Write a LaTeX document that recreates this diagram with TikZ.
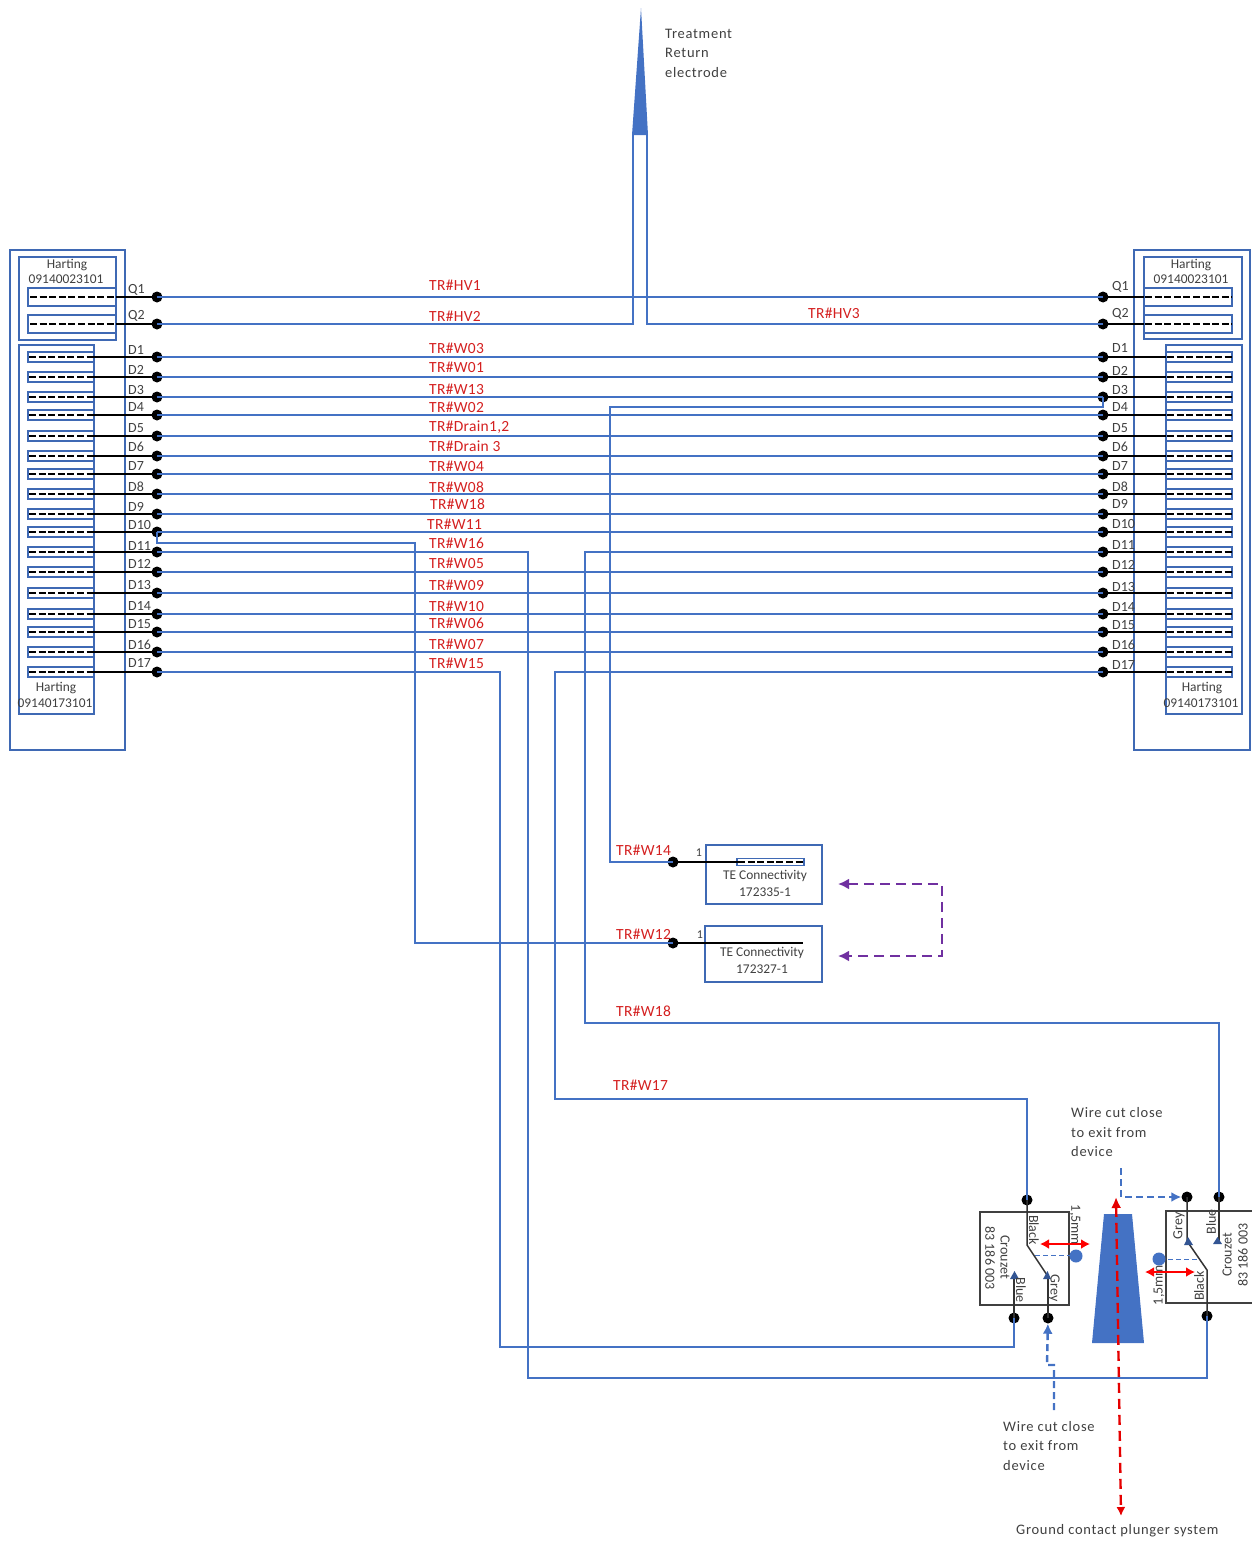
\documentclass[tikz,border=0pt]{standalone}
\usepackage{fontspec}
\setmainfont{Carlito}
\newfontfamily\widefont[LetterSpace=5]{Carlito}
\newfontfamily\midfont[LetterSpace=2]{Carlito}
\usetikzlibrary{arrows.meta}
\definecolor{wb}{HTML}{4472C4}
\definecolor{tx}{HTML}{404040}
\definecolor{trred}{HTML}{D42020}
\definecolor{pur}{HTML}{7030A0}
\tikzset{
 wire/.style={draw=wb,line width=2.6pt,line join=miter},
 bx/.style={draw=wb!92!black,line width=1.2pt},
 pinbox/.style={draw=wb!92!black,line width=1.5pt},
 blk/.style={draw=black,line width=2.2pt},
 pindash/.style={draw=black,line width=2.4pt,dash pattern=on 7pt off 2.6pt},
 dot/.style={circle,fill=black,inner sep=0pt,minimum size=11pt},
 lab/.style={font=\widefont\fontsize{14.5}{15}\selectfont,text=tx,inner sep=0pt,anchor=west},
 plab/.style={font=\fontsize{14}{15}\selectfont,text=tx,inner sep=0pt,anchor=west},
 ctr/.style={font=\fontsize{13.4}{14}\selectfont,text=tx,inner sep=0pt},
 trl/.style={font=\midfont\fontsize{15.5}{16}\selectfont,text=trred,inner sep=0pt,anchor=west},
 swl/.style={font=\fontsize{14}{14}\selectfont,text=tx,inner sep=0pt},
 pdash/.style={draw=pur,line width=2.6pt,dash pattern=on 10pt off 6pt},
 bdash/.style={draw=wb,line width=2.4pt,dash pattern=on 7pt off 4pt},
 rdash/.style={draw=red!90!black,line width=2.4pt,dash pattern=on 10pt off 6pt},
 thin dash/.style={draw=wb,line width=1pt,dash pattern=on 5pt off 3pt},
 redarr/.style={draw=red,line width=1.8pt,{Latex[length=9pt,width=10pt]}-{Latex[length=9pt,width=10pt]}},
 swbox/.style={draw=black!75,line width=1.2pt},
 swwire/.style={draw=black!80,line width=1.5pt},
}
\begin{document}
\begin{tikzpicture}[x=1pt,y=-1pt]
\useasboundingbox (0,0) rectangle (1252,1542);
% enclosures
\draw[bx] (10,250) rectangle (125,750);
\draw[bx] (19,257) rectangle (116,340);
\draw[bx] (19,345) rectangle (94,714);
\draw[bx] (1134,250) rectangle (1250,750);
\draw[bx] (1144,257) rectangle (1242,339);
\draw[bx] (1166,345) rectangle (1242,714);
% Q pins
\foreach \n/\y in {Q1/297,Q2/324}{
  \draw[pinbox] (28,\y-9) rectangle (116,\y+9);
  \draw[pinbox] (1144,\y-9) rectangle (1232,\y+9);
  \node[dot] (L\n) at (157,\y) {};
  \node[dot] (R\n) at (1103,\y) {};
  \draw[pindash] (30,\y) -- (116,\y);
  \draw[blk] (116,\y) -- (L\n.center);
  \draw[pindash] (1145,\y) -- (1232,\y);
  \draw[blk] (R\n.center) -- (1144,\y);
}
% D pins
\foreach \n/\y in {D1/357,D2/377,D3/397,D4/415,D5/436,D6/456,D7/474,D8/494,D9/514,D10/532,D11/552,D12/572,D13/593,D14/614,D15/632,D16/652,D17/672}{
  \draw[pinbox] (28,\y-5) rectangle (94,\y+5);
  \draw[pinbox] (1166,\y-5) rectangle (1232,\y+5);
  \node[dot] (L\n) at (157,\y) {};
  \node[dot] (R\n) at (1103,\y) {};
  \draw[pindash] (29,\y) -- (94,\y);
  \draw[blk] (94,\y) -- (L\n.center);
  \draw[pindash] (1167,\y) -- (1232,\y);
  \draw[blk] (R\n.center) -- (1166,\y);
}
% pin labels
\foreach \n/\y in {Q1/290,Q2/316,D1/350,D2/370,D3/390,D4/407,D5/428,D6/447,D7/466,D8/487,D9/507,D10/525,D11/546,D12/564,D13/585,D14/606,D15/624,D16/645,D17/663}
  \node[plab] (tl\n) at (128,\y) {\n};
\foreach \n/\y in {Q1/287,Q2/314,D1/348,D2/371,D3/390,D4/407,D5/428,D6/447,D7/466,D8/487,D9/504,D10/524,D11/545,D12/565,D13/587,D14/607,D15/625,D16/645,D17/665}
  \node[plab] (tr\n) at (1112,\y) {\n};
% Harting labels
\node[ctr] (h1) at (67,265) {Harting};
\node[ctr] (h2) at (66,279) {09140023101};
\node[ctr] (h3) at (56,688) {Harting};
\node[ctr] (h4) at (55,703) {09140173101};
\node[ctr] (h5) at (1191,265) {Harting};
\node[ctr] (h6) at (1191,279) {09140023101};
\node[ctr] (h7) at (1202,688) {Harting};
\node[ctr] (h8) at (1201,703) {09140173101};
% Treatment electrode
\fill[wb] (632,135) -- (641,8) -- (648,135) -- cycle;
\coordinate (tipL) at (633,135);
\coordinate (tipR) at (647,135);
\node[lab] (te1) at (665,34) {Treatment};
\node[lab] (te2) at (665,53) {Return};
\node[lab] (te3) at (665,73) {electrode};
% TE connector boxes
\draw[bx] (706,845) rectangle (822,904);
\draw[bx] (705,926) rectangle (822,982);
\draw[pinbox,line width=1.1pt] (737,858.5) rectangle (804,865.5);
\node[dot] (TA) at (673,862) {};
\node[dot] (TB) at (673,943) {};
\draw[blk] (TA.center) -- (738,862);
\draw[pindash] (738,862) -- (804,862);
\draw[blk] (TB.center) -- (803,943);
\node[ctr,font=\fontsize{12}{13}\selectfont] (n1) at (699,853) {1};
\node[ctr,font=\fontsize{12}{13}\selectfont] (n2) at (700,935) {1};
\node[ctr] (te4) at (765,876) {TE Connectivity};
\node[ctr] (te5) at (765,892) {172335-1};
\node[ctr] (te6) at (762,953) {TE Connectivity};
\node[ctr] (te7) at (762,969) {172327-1};
% switches
\draw[swbox] (980,1212) rectangle (1069,1305);
\draw[swbox] (1252,1211) -- (1166,1211) -- (1166,1303) -- (1252,1303);
\node[dot] (SA) at (1027,1200) {};
\node[dot] (SB) at (1014,1318) {};
\node[dot] (SC) at (1048,1318) {};
\node[dot] (SD) at (1187,1197) {};
\node[dot] (SE) at (1219,1197) {};
\node[dot] (SF) at (1207,1316) {};
\draw[swwire] (SA.center) -- (1027,1245) -- (1047,1275);
\draw[swwire] (SC.center) -- (1048,1275);
\draw[swwire] (SB.center) -- (1014,1275);
\draw[swwire] (SD.center) -- (1187,1241) -- (1207,1270) -- (SF.center);
\draw[swwire] (SE.center) -- (1219,1241);
\fill[wb!75!black] (1010,1279) -- (1014.5,1271) -- (1019,1279) -- cycle;
\fill[wb!75!black] (1043,1279) -- (1047.5,1271) -- (1051,1279) -- cycle;
\fill[wb!75!black] (1184,1245) -- (1188,1237) -- (1193,1245) -- cycle;
\fill[wb!75!black] (1213,1244) -- (1217.5,1237) -- (1222,1244) -- cycle;
\draw[thin dash] (1035,1255) -- (1070,1255);
\draw[thin dash] (1168,1259) -- (1200,1259);
\node[swl,rotate=-90] (s1) at (1034,1230) {Black};
\node[swl,rotate=-90] (s2) at (1054,1288) {Grey};
\node[swl,rotate=-90] (s3) at (1021,1290) {Blue};
\node[swl,rotate=-90] (s4) at (1005,1257) {Crouzet};
\node[swl,rotate=-90] (s5) at (990,1258) {83 186 003};
\node[swl,rotate=-90] (s6) at (1075,1225) {1,5mm};
\node[swl,rotate=90] (s7) at (1179,1226) {Grey};
\node[swl,rotate=90] (s8) at (1211,1222) {Blue};
\node[swl,rotate=90] (s9) at (1227,1255) {Crouzet};
\node[swl,rotate=90] (s10) at (1243,1255) {83 186 003};
\node[swl,rotate=90] (s11) at (1199,1286) {Black};
\node[swl,rotate=90] (s12) at (1159,1285) {1,5mm};
\node[circle,fill=wb,inner sep=0pt,minimum size=13pt] (bd1) at (1076,1256) {};
\node[circle,fill=wb,inner sep=0pt,minimum size=13pt] (bd2) at (1159,1259) {};
\draw[redarr] (1040,1244) -- (1090,1244);
\draw[redarr] (1145,1272) -- (1195,1272);
% plunger
\fill[wb] (1104,1214) -- (1132,1214) -- (1144,1343) -- (1092,1343) -- cycle;
\coordinate (plTop) at (1116,1197);
\coordinate (plBot) at (1121,1516);
\draw[rdash,{Latex[length=11pt,width=10pt]}-{Latex[length=9pt,width=9pt]}] (plTop) -- (plBot);
% wires
\draw[wire] (LQ1.center) -- (RQ1.center);
\draw[wire] (LQ2.center) -- (633,324) -- (tipL);
\draw[wire] (RQ2.center) -- (647,324) -- (tipR);
\foreach \n in {D1,D2,D3,D4,D5,D6,D7,D8,D9,D10,D12,D13,D14,D15,D16}
  \draw[wire] (L\n.center) -- (R\n.center);
\draw[wire] (RD3.center) -- (1103,407) -- (610,407) -- (610,862) -- (TA.center);
\draw[wire] (LD10.center) -- (157,543) -- (415,543) -- (415,943) -- (TB.center);
\draw[wire] (LD11.center) -- (528,552) -- (528,1378) -- (1207,1378) -- (SF.center);
\draw[wire] (LD17.center) -- (500,672) -- (500,1347) -- (1014,1347) -- (SB.center);
\draw[wire] (RD11.center) -- (585,552) -- (585,1023) -- (1219,1023) -- (SE.center);
\draw[wire] (RD17.center) -- (555,672) -- (555,1099) -- (1027,1099) -- (SA.center);
% dashed arrows
\coordinate (wc1) at (1121,1168);
\coordinate (wc2) at (1054,1410);
\draw[bdash,-{Latex[length=10pt,width=10pt]}] (wc1) -- (1121,1197) -- (SD);
\draw[bdash,-{Latex[length=10pt,width=10pt]}] (wc2) -- (1054,1365) -- (1047,1365) -- (SC);
\coordinate (pa) at (838,884);
\coordinate (pb) at (838,956);
\draw[pdash,{Latex[length=11pt,width=11pt]}-{Latex[length=11pt,width=11pt]}] (pa) -- (942,884) -- (942,956) -- (pb);
% wire labels
\foreach \x/\y/\t in {429/285/TR\#HV1,429/316/TR\#HV2,808/313/TR\#HV3,429/348/TR\#W03,429/367/TR\#W01,429/389/TR\#W13,429/407/TR\#W02,429/427/{TR\#Drain1,2},429/446/TR\#Drain 3,429/466/TR\#W04,429/487/TR\#W08,430/504/TR\#W18,427/524/TR\#W11,429/543/TR\#W16,429/563/TR\#W05,429/585/TR\#W09,429/606/TR\#W10,429/623/TR\#W06,429/644/TR\#W07,429/663/TR\#W15,616/850/TR\#W14,616/934/TR\#W12,616/1011/TR\#W18,613/1085/TR\#W17}
  \node[trl] (w\x-\y) at (\x,\y) {\t};
% notes
\node[lab] (c1) at (1071,1113) {Wire cut close};
\node[lab] (c2) at (1071,1133) {to exit from};
\node[lab] (c3) at (1071,1152) {device};
\node[lab] (c4) at (1003,1427) {Wire cut close};
\node[lab] (c5) at (1003,1446) {to exit from};
\node[lab] (c6) at (1003,1465) {device};
\node[lab] (c7) at (1016,1531) {Ground contact plunger system};
\end{tikzpicture}
\end{document}
